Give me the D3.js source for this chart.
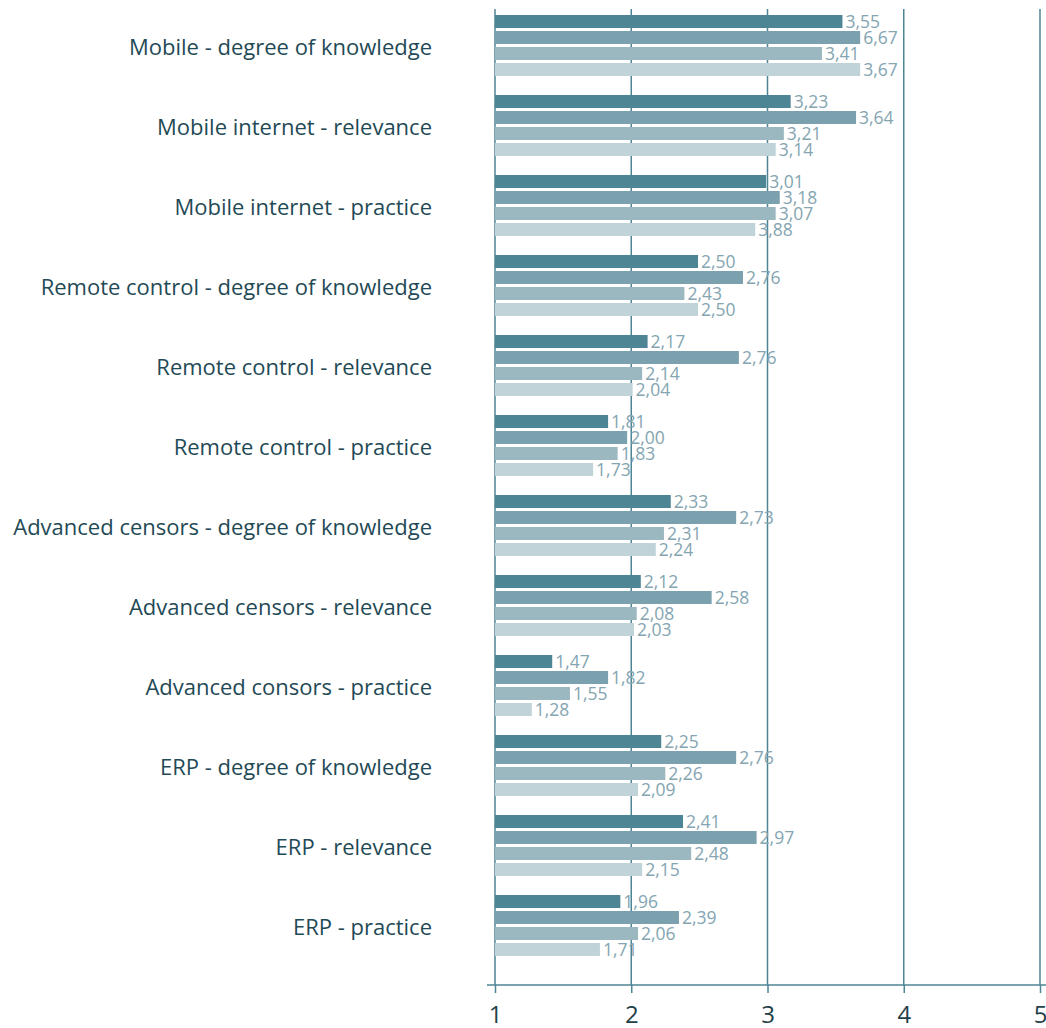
<!DOCTYPE html>
<html>
<head>
<meta charset="utf-8">
<script src="https://cdn.jsdelivr.net/npm/d3@7"></script>
<style>
  body { margin: 0; background: #fff; }
  svg { display: block; font-family: "Open Sans", sans-serif; }
</style>
</head>
<body>
<div id="chart"></div>
<script>
// categories, top to bottom
const categories = [
  "Mobile - degree of knowledge",
  "Mobile internet - relevance",
  "Mobile internet - practice",
  "Remote control - degree of knowledge",
  "Remote control - relevance",
  "Remote control - practice",
  "Advanced censors - degree of knowledge",
  "Advanced censors - relevance",
  "Advanced consors - practice",
  "ERP - degree of knowledge",
  "ERP - relevance",
  "ERP - practice"
];

const seriesNames = ["s1", "s2", "s3", "s4"];

// bar lengths as drawn
const series1 = [3.55, 3.17, 2.99, 2.49, 2.12, 1.83, 2.29, 2.07, 1.42, 2.22, 2.38, 1.92];
const series2 = [3.68, 3.65, 3.09, 2.82, 2.79, 1.97, 2.77, 2.59, 1.83, 2.77, 2.92, 2.35];
const series3 = [3.40, 3.12, 3.06, 2.39, 2.08, 1.90, 2.24, 2.04, 1.55, 2.25, 2.44, 2.05];
const series4 = [3.68, 3.06, 2.91, 2.49, 2.01, 1.72, 2.18, 2.02, 1.27, 2.05, 2.08, 1.77];

// value labels as printed
const labels1 = ["3,55", "3,23", "3,01", "2,50", "2,17", "1,81", "2,33", "2,12", "1,47", "2,25", "2,41", "1,96"];
const labels2 = ["6,67", "3,64", "3,18", "2,76", "2,76", "2,00", "2,73", "2,58", "1,82", "2,76", "2,97", "2,39"];
const labels3 = ["3,41", "3,21", "3,07", "2,43", "2,14", "1,83", "2,31", "2,08", "1,55", "2,26", "2,48", "2,06"];
const labels4 = ["3,67", "3,14", "3,88", "2,50", "2,04", "1,73", "2,24", "2,03", "1,28", "2,09", "2,15", "1,71"];

const tickValues = [1, 2, 3, 4, 5];

const colors = ["#4e8595", "#7ba1ae", "#9bb7c0", "#bfd3d9"];

const width = 1046, height = 1028;

const svg = d3.select("#chart").append("svg")
  .attr("width", width)
  .attr("height", height);

const x = d3.scaleLinear().domain([1, 5]).range([495, 1040]);

const y0 = d3.scaleBand()
  .domain(categories)
  .range([13.5, 957.5])
  .paddingInner(0.2)
  .paddingOuter(0);

const y1 = d3.scaleBand()
  .domain(seriesNames)
  .range([0, y0.bandwidth()])
  .paddingInner(0.1875)
  .paddingOuter(0.09375);

const values = [series1, series2, series3, series4];
const texts = [labels1, labels2, labels3, labels4];

const rows = categories.map((c, i) => ({
  cat: c,
  bars: seriesNames.map((s, j) => ({ s: s, j: j, v: values[j][i], t: texts[j][i] }))
}));

const axisY = 985;

// gridlines
svg.append("g")
  .selectAll("line")
  .data(tickValues)
  .join("line")
    .attr("x1", d => x(d))
    .attr("x2", d => x(d))
    .attr("y1", 9)
    .attr("y2", axisY)
    .attr("stroke", "#4e8595")
    .attr("stroke-width", 1.5);

// bars
const groups = svg.append("g")
  .selectAll("g")
  .data(rows)
  .join("g")
    .attr("transform", d => `translate(0,${y0(d.cat)})`);

groups.selectAll("rect")
  .data(d => d.bars)
  .join("rect")
    .attr("x", x(1))
    .attr("y", d => y1(d.s))
    .attr("width", d => x(d.v) - x(1))
    .attr("height", y1.bandwidth())
    .attr("fill", d => colors[d.j]);

groups.selectAll("text")
  .data(d => d.bars)
  .join("text")
    .attr("x", d => x(d.v) + 3)
    .attr("y", d => y1(d.s) + y1.bandwidth() / 2)
    .attr("dy", "0.36em")
    .attr("font-size", 17.5)
    .attr("fill", "#84a5b1")
    .text(d => d.t);

// category labels
svg.append("g")
  .selectAll("text")
  .data(categories)
  .join("text")
    .attr("x", 432)
    .attr("y", d => y0(d) + y0.bandwidth() / 2 + 1.5)
    .attr("dy", "0.35em")
    .attr("text-anchor", "end")
    .attr("font-size", 22)
    .attr("fill", "#1f4a56")
    .text(d => d);

// x axis
const xAxis = svg.append("g")
  .attr("transform", `translate(0,${axisY})`)
  .call(d3.axisBottom(x).tickValues(tickValues).tickSize(8).tickPadding(13).tickFormat(d3.format("d")));

xAxis.select(".domain").remove();
xAxis.selectAll(".tick line").attr("stroke", "#4e8595").attr("stroke-width", 1.5);
xAxis.selectAll(".tick text")
  .attr("font-size", 24)
  .attr("font-family", "Open Sans, sans-serif")
  .attr("fill", "#1f3f49");

xAxis.append("line")
  .attr("x1", 487)
  .attr("x2", width)
  .attr("stroke", "#4e8595")
  .attr("stroke-width", 1.5);
</script>
</body>
</html>
